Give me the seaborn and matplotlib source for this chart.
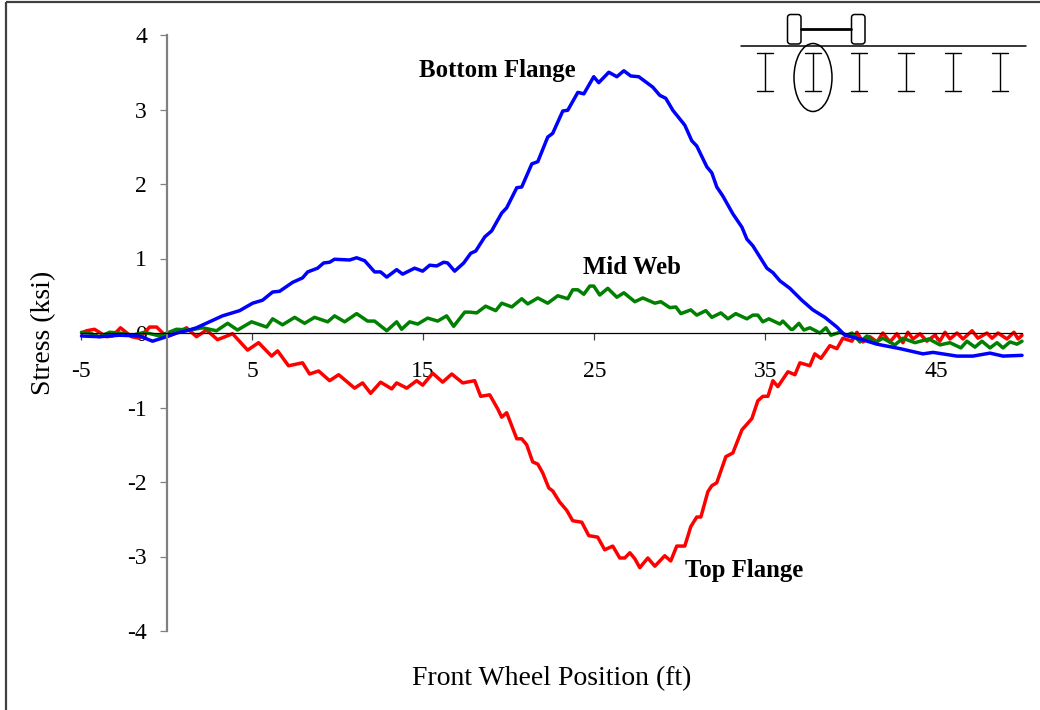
import matplotlib
matplotlib.use("Agg")
import matplotlib.pyplot as plt
from matplotlib.patches import Ellipse, FancyBboxPatch
import seaborn as sns
import pandas as pd

bottom_x = [-4.97,-3.92,-2.75,-1.58,-0.82,0,0.58,1.17,1.75,2.51,3.27,4.27,5.03,5.61,6.2,6.61,7.37,7.95,8.25,8.83,9.18,9.53,9.82,10.7,11.11,11.58,12.16,12.51,12.87,13.45,13.8,14.5,14.97,15.38,15.79,16.2,16.43,16.84,17.37,17.78,18.07,18.6,19.0,19.59,19.88,20.47,20.76,21.35,21.7,22.28,22.57,23.16,23.45,24.04,24.39,24.97,25.26,25.85,26.32,26.73,27.13,27.6,28.07,28.42,28.83,29.18,29.59,30.29,30.7,30.99,31.58,31.87,32.16,32.51,33.1,33.63,33.92,34.27,35.09,35.44,35.85,36.43,37.13,37.78,38.48,39.18,39.65,40.53,41.52,42.87,44.21,44.8,46.2,47.13,48.13,48.89,50]
bottom_y = [-0.04,-0.05,-0.03,-0.04,-0.11,-0.05,0,0.03,0.07,0.15,0.23,0.30,0.40,0.44,0.55,0.56,0.68,0.74,0.82,0.87,0.94,0.95,0.99,0.98,1.01,0.97,0.82,0.82,0.75,0.85,0.79,0.87,0.83,0.91,0.90,0.95,0.94,0.83,0.94,1.07,1.10,1.29,1.37,1.61,1.68,1.95,1.96,2.27,2.30,2.63,2.68,2.98,2.99,3.23,3.21,3.44,3.36,3.50,3.44,3.52,3.45,3.44,3.36,3.30,3.19,3.15,2.99,2.79,2.58,2.51,2.23,2.15,1.96,1.84,1.60,1.42,1.26,1.17,0.87,0.81,0.70,0.60,0.44,0.31,0.21,0.08,-0.03,-0.08,-0.15,-0.21,-0.28,-0.26,-0.31,-0.31,-0.27,-0.31,-0.30]

web_x = [-4.97,-4.5,-3.92,-3.33,-2.75,-1.99,-1.29,-0.41,0.58,1.35,2.11,2.92,3.57,4.15,4.97,5.85,6.2,6.78,7.49,8.07,8.65,9.42,9.82,10.41,11.11,11.75,12.16,12.87,13.45,13.74,14.21,14.68,15.26,15.85,16.37,16.78,17.43,17.72,18.13,18.65,19.24,19.59,20.18,20.76,21.11,21.7,22.28,22.87,23.45,23.74,24.04,24.39,24.74,24.97,25.32,25.79,26.32,26.73,27.37,27.84,28.54,28.89,29.42,29.77,30.06,30.64,30.99,31.52,31.87,32.4,32.81,33.27,33.92,34.27,34.56,34.85,35.2,35.85,36.02,36.49,36.61,36.96,37.25,37.6,38.19,38.54,38.83,39.36,39.77,40.06,40.53,40.94,41.4,41.87,42.57,43.04,43.74,44.56,45.2,45.79,46.43,46.78,47.25,47.66,48.13,48.54,48.89,49.3,49.71,50]
web_y = [0.01,0,-0.05,0.01,0,-0.03,0.01,-0.04,0.05,0.04,0.07,0.03,0.13,0.04,0.15,0.08,0.19,0.11,0.21,0.13,0.21,0.15,0.23,0.15,0.26,0.16,0.16,0.03,0.15,0.05,0.15,0.12,0.20,0.16,0.23,0.09,0.28,0.28,0.27,0.36,0.30,0.40,0.35,0.46,0.39,0.47,0.40,0.50,0.46,0.58,0.58,0.52,0.63,0.63,0.51,0.60,0.48,0.54,0.42,0.47,0.40,0.42,0.34,0.35,0.26,0.31,0.24,0.30,0.21,0.27,0.19,0.26,0.19,0.24,0.24,0.15,0.19,0.12,0.16,0.05,0.05,0.13,0.04,0.07,0,0.07,-0.03,0.01,-0.03,0,-0.12,-0.04,-0.13,-0.07,-0.16,-0.07,-0.13,-0.08,-0.16,-0.13,-0.20,-0.11,-0.19,-0.11,-0.20,-0.13,-0.20,-0.12,-0.15,-0.11]

top_x = [-4.97,-4.68,-4.21,-3.51,-3.16,-2.69,-2.05,-1.58,-0.99,-0.58,0,0.58,1.17,1.75,2.34,2.98,3.86,4.74,5.38,6.14,6.49,7.13,7.95,8.36,8.89,9.53,10.06,10.99,11.46,11.93,12.51,13.16,13.45,14.04,14.62,14.97,15.56,16.14,16.67,17.31,18.01,18.36,18.89,19.36,19.59,19.88,20.47,20.76,21.05,21.4,21.7,21.99,22.34,22.57,22.98,23.39,23.74,24.27,24.68,25.2,25.61,26.08,26.49,26.78,27.08,27.37,27.66,28.13,28.54,29.12,29.47,29.82,30.29,30.64,30.99,31.23,31.64,31.87,32.16,32.69,33.1,33.63,34.21,34.56,34.85,35.15,35.44,35.73,36.32,36.73,37.02,37.6,37.89,38.25,38.77,39.18,39.53,40.06,40.35,40.7,41.11,41.52,41.87,42.28,42.69,43.04,43.33,43.63,44.04,44.44,44.91,45.2,45.5,45.79,46.2,46.55,47.08,47.43,47.95,48.25,48.6,49.12,49.53,49.77,50]
top_y = [0,0.03,0.05,-0.05,-0.04,0.07,-0.05,-0.07,0.08,0.08,-0.05,0,0.07,-0.05,0.04,-0.09,-0.01,-0.23,-0.13,-0.31,-0.24,-0.44,-0.40,-0.55,-0.51,-0.64,-0.56,-0.74,-0.67,-0.81,-0.66,-0.75,-0.67,-0.74,-0.64,-0.70,-0.54,-0.66,-0.55,-0.67,-0.64,-0.85,-0.83,-1.02,-1.13,-1.07,-1.42,-1.42,-1.50,-1.73,-1.76,-1.88,-2.08,-2.12,-2.27,-2.38,-2.52,-2.54,-2.72,-2.74,-2.91,-2.86,-3.02,-3.02,-2.95,-3.03,-3.15,-3.02,-3.13,-2.99,-3.06,-2.86,-2.86,-2.60,-2.47,-2.47,-2.13,-2.05,-2.01,-1.66,-1.61,-1.30,-1.15,-0.91,-0.85,-0.85,-0.64,-0.72,-0.52,-0.56,-0.40,-0.44,-0.28,-0.34,-0.17,-0.21,-0.07,-0.11,0.01,-0.12,-0.05,-0.12,0,-0.12,-0.01,-0.13,0.01,-0.08,-0.01,-0.11,-0.03,-0.11,0.01,-0.08,0,-0.08,0.03,-0.07,0,-0.07,0,-0.08,0.01,-0.08,-0.03]

x_ticks = [-5, 5, 15, 25, 35, 45]
y_ticks = [-4, -3, -2, -1, 0, 1, 2, 3, 4]
x_label = "Front Wheel Position (ft)"
y_label = "Stress (ksi)"
series_names = ["Top Flange", "Mid Web", "Bottom Flange"]
series_colors = ["#ff0000", "#008000", "#0000ff"]

W, H = 1040, 710
sns.set_theme(style="white")
plt.rcParams["font.family"] = ["Liberation Serif", "DejaVu Serif"]
plt.rcParams["axes.unicode_minus"] = False

fig = plt.figure(figsize=(W / 100, H / 100), dpi=100, facecolor="white")
L, R, T, B = 81, 1022, 35, 631
ax = fig.add_axes([L / W, 1 - B / H, (R - L) / W, (B - T) / H])
ax.set_facecolor("none")

frames = [pd.DataFrame({"x": a, "y": b, "s": n}) for a, b, n in
          zip([top_x, web_x, bottom_x], [top_y, web_y, bottom_y], series_names)]
for fr, c in zip(frames, series_colors):
    sns.lineplot(data=fr, x="x", y="y", color=c, linewidth=2.5, sort=False,
                 estimator=None, errorbar=None, ax=ax, clip_on=False,
                 solid_joinstyle="round", solid_capstyle="round")

ax.set_xlim(-5, 50)
ax.set_ylim(-4, 4)
ax.spines["top"].set_visible(False)
ax.spines["right"].set_visible(False)
ax.spines["left"].set_position(("data", 0))
ax.spines["bottom"].set_position(("data", 0))
ax.spines["left"].set_color("#808080")
ax.spines["left"].set_linewidth(1.6)
ax.spines["bottom"].set_color("black")
ax.spines["bottom"].set_linewidth(0.9)
ax.set_xticks(x_ticks)
ax.set_xticklabels([str(v) for v in x_ticks])
ax.set_yticks(y_ticks)
ax.set_yticklabels([str(v) for v in y_ticks])
ax.tick_params(axis="x", bottom=True, length=5, width=0.9, color="#404040", pad=15, labelsize=17, labelcolor="black")
ax.tick_params(axis="y", left=True, length=5, width=0.9, color="#808080", pad=9, labelsize=17, labelcolor="black")
ax.set_xlabel(x_label, fontsize=20, color="black", va="center")
ax.set_ylabel(y_label, fontsize=20, color="black", va="center")
ax.xaxis.set_label_coords((552 - L) / (R - L), (B - 679) / (B - T))
ax.yaxis.set_label_coords((44 - L) / (R - L), (B - 333) / (B - T))

# full-figure overlay in pixel units for annotations and the sketch
ov = fig.add_axes([0, 0, 1, 1], facecolor="none")
ov.set_xlim(0, W)
ov.set_ylim(H, 0)
ov.axis("off")
for txt, cx, cy in [("Bottom Flange", 497.5, 70.5), ("Mid Web", 632, 267.5), ("Top Flange", 744, 570.5)]:
    ov.text(cx, cy, txt, ha="center", va="center", fontsize=17.8, fontweight="bold", color="black")

# page frame
frame_c = "#404040"
ov.plot([5.5, 5.5], [710, 2], color=frame_c, lw=1.6, solid_capstyle="butt")
ov.plot([5.5, 1040], [2, 2], color=frame_c, lw=1.6, solid_capstyle="butt")

# truck and girder sketch
ov.plot([741, 1026], [45.5, 45.5], color="black", lw=1.1)
ov.plot([801, 851], [29, 29], color="black", lw=2.0)
for wx in [787.5, 851.5]:
    ov.add_patch(FancyBboxPatch((wx, 14.5), 13.5, 29.5, boxstyle="round,pad=0,rounding_size=3",
                                fc="white", ec="black", lw=1.1))
for bx in [765, 812.5, 859, 906, 953, 1000]:
    ov.plot([bx, bx], [53, 91], color="black", lw=1.0)
    ov.plot([bx - 8, bx + 8], [53, 53], color="black", lw=1.0)
    ov.plot([bx - 8, bx + 8], [91, 91], color="black", lw=1.0)
ov.add_patch(Ellipse((813, 77.5), 38, 68, fc="none", ec="black", lw=1.1))

fig.savefig("out.png", dpi=100, facecolor="white")
